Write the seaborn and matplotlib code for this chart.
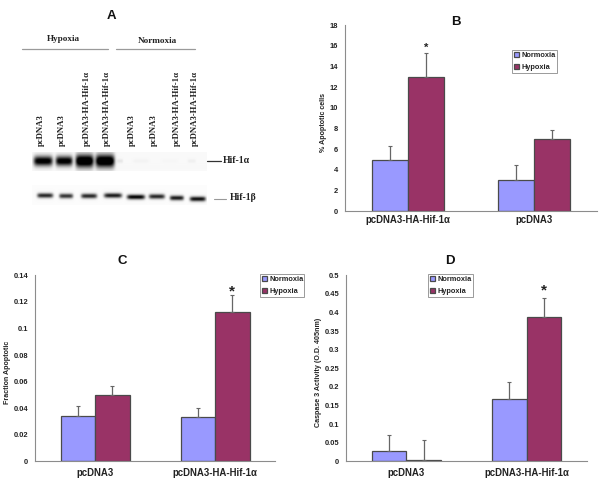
# Hif-1 panels: western blot (A) and three apoptosis bar charts (B, C, D)

import numpy as np
import pandas as pd
import matplotlib
matplotlib.use("Agg")
import matplotlib.pyplot as plt
import seaborn as sns

sns.set_style("white")
plt.rcParams["font.family"] = ["Liberation Sans", "DejaVu Sans"]

# Data

conditions = ["Normoxia", "Hypoxia"]
colors = ["#9999FF", "#993366"]

b_groups = ["pcDNA3-HA-Hif-1α", "pcDNA3"]
b_normoxia = [5, 3]
b_hypoxia = [13, 7]
b_normoxia_top = [6.3, 4.5]
b_hypoxia_top = [15.3, 7.9]
b_ticks = [0, 2, 4, 6, 8, 10, 12, 14, 16, 18]
b_ticklabels = ["0", "2", "4", "6", "8", "10", "12", "14", "16", "18"]

c_groups = ["pcDNA3", "pcDNA3-HA-Hif-1α"]
c_normoxia = [0.034, 0.033]
c_hypoxia = [0.050, 0.1125]
c_normoxia_top = [0.0415, 0.040]
c_hypoxia_top = [0.057, 0.1255]
c_ticks = [0, 0.02, 0.04, 0.06, 0.08, 0.1, 0.12, 0.14]
c_ticklabels = ["0", "0.02", "0.04", "0.06", "0.08", "0.1", "0.12", "0.14"]

d_groups = ["pcDNA3", "pcDNA3-HA-Hif-1α"]
d_normoxia = [0.027, 0.168]
d_hypoxia = [0.003, 0.388]
d_normoxia_top = [0.072, 0.214]
d_hypoxia_top = [0.056, 0.44]
d_ticks = [0, 0.05, 0.1, 0.15, 0.2, 0.25, 0.3, 0.35, 0.4, 0.45, 0.5]
d_ticklabels = ["0", "0.05", "0.1", "0.15", "0.2", "0.25", "0.3", "0.35", "0.4", "0.45", "0.5"]

lane_labels = ["pcDNA3", "pcDNA3", "pcDNA3-HA-Hif-1α", "pcDNA3-HA-Hif-1α",
               "pcDNA3", "pcDNA3", "pcDNA3-HA-Hif-1α", "pcDNA3-HA-Hif-1α"]
hif1a_strength = [0.85, 0.85, 1.0, 1.0, 0.06, 0.02, 0.01, 0.03]
hif1b_strength = [0.8, 0.75, 0.8, 0.85, 0.95, 0.8, 0.85, 0.9]

# Layout, in pixels of the 600x500 picture

W, H = 600, 500
label_x = [41, 62, 87, 107, 132, 154, 177, 195]
hif1a_x = [43, 64, 84.5, 105, 120, 141, 170, 192]
hif1b_x = [45, 66, 89, 113, 136, 157, 177, 198]
hif1b_y = [195.5, 196, 196, 195.5, 197, 196.5, 198, 199]
hif1b_w = [8, 7, 8, 9, 9, 8, 7, 8]

fig = plt.figure(figsize=(6, 5), dpi=100)


def make_axes(left, right, top, bottom):
    return fig.add_axes([left / W, 1 - bottom / H, (right - left) / W, (bottom - top) / H])


def bar_panel(box, groups, normoxia, hypoxia, normoxia_top, hypoxia_top, ticks, ticklabels,
              ylabel, ylabel_x, legend_box, star_size, star_shift, xpad, xsize):
    ax = make_axes(*box)
    df = pd.DataFrame({
        "group": groups * 2,
        "condition": [conditions[0]] * 2 + [conditions[1]] * 2,
        "value": list(normoxia) + list(hypoxia),
    })
    sns.barplot(data=df, x="group", y="value", hue="condition", order=groups,
                hue_order=conditions, palette=colors, width=0.57, gap=0,
                saturation=1, edgecolor="#4a4a4a", linewidth=0.9, errorbar=None, ax=ax)

    # upper error bars only, centred on the bars seaborn drew
    tops = list(normoxia_top) + list(hypoxia_top)
    bars = ax.patches[:4]
    for bar, top in zip(bars, tops):
        x = bar.get_x() + bar.get_width() / 2
        y = bar.get_height()
        ax.errorbar(x, y, yerr=[[0], [top - y]], color="#666666", lw=0.9,
                    capsize=1.6, capthick=0.8, fmt="none", zorder=5)

    # star above the hypoxia bar of the HA-Hif-1α group
    star = groups.index("pcDNA3-HA-Hif-1α")
    star_bar = bars[2 + star]
    ax.annotate("*", (star_bar.get_x() + star_bar.get_width() / 2, tops[2 + star]),
                xytext=(0, star_shift), textcoords="offset points", ha="center", va="bottom",
                fontsize=star_size, fontweight="bold", color="#222222")

    ax.set_xlim(-0.5, 1.5)
    ax.set_ylim(ticks[0], ticks[-1])
    ax.set_yticks(ticks)
    ax.set_yticklabels(ticklabels)
    ax.set_xlabel("")
    ax.set_ylabel(ylabel, fontsize=5.1, fontweight="bold", color="#222222")
    ax.yaxis.set_label_coords((ylabel_x - box[0]) / (box[1] - box[0]), 0.48)
    sns.despine(ax=ax)
    for side in ["left", "bottom"]:
        ax.spines[side].set_color("#8c8c8c")
        ax.spines[side].set_linewidth(0.8)
    ax.tick_params(axis="y", length=3, width=0.7, color="#8c8c8c", pad=2,
                   labelsize=5.4, labelcolor="#222222")
    ax.tick_params(axis="x", length=0, pad=xpad, labelsize=xsize, labelcolor="#222222")
    for lab in ax.get_yticklabels() + ax.get_xticklabels():
        lab.set_fontweight("bold")
    # x ticks sit on the category boundaries
    ax.set_xticks([-0.5, 0.5, 1.5], minor=True)
    ax.tick_params(axis="x", which="minor", length=2.5, width=0.7, color="#8c8c8c")

    handles, labels = ax.get_legend_handles_labels()
    left, right, top, bottom = legend_box
    leg = ax.legend(handles, labels, loc="lower left",
                    bbox_to_anchor=(left / W, 1 - bottom / H, (right - left) / W, (bottom - top) / H),
                    bbox_transform=fig.transFigure, mode="expand", borderaxespad=0,
                    frameon=True, fancybox=False, edgecolor="#9a9a9a",
                    framealpha=1, handlelength=0.7, handleheight=0.7, handletextpad=0.35,
                    borderpad=0.3, labelspacing=0.6, prop={"weight": "bold", "size": 5.3})
    leg.get_frame().set_linewidth(0.7)
    for text in leg.get_texts():
        text.set_color("#222222")
    return ax


# 1. Bar panels

bar_panel((345.3, 596.7, 25.3, 211.3), b_groups, b_normoxia, b_hypoxia, b_normoxia_top,
          b_hypoxia_top, b_ticks, b_ticklabels, "% Apoptotic cells", 327,
          (512, 556.7, 51, 73), 8, 0, 3, 6.9)
bar_panel((35.3, 275.3, 275.3, 461.3), c_groups, c_normoxia, c_hypoxia, c_normoxia_top,
          c_hypoxia_top, c_ticks, c_ticklabels, "Fraction Apoptotic", 11,
          (260, 304, 273, 297), 11, -2.5, 5, 6.9)
bar_panel((346.3, 586.7, 275.3, 461.3), d_groups, d_normoxia, d_hypoxia, d_normoxia_top,
          d_hypoxia_top, d_ticks, d_ticklabels, "Caspase 3 Activity (O.D. 405nm)", 322,
          (428, 473, 273, 297), 11, 0, 5, 6.9)

# 2. Overlay in pixel coordinates for the blot and the panel letters

over = fig.add_axes([0, 0, 1, 1], zorder=10)
over.set_xlim(0, W)
over.set_ylim(H, 0)
over.axis("off")
over.patch.set_alpha(0)


def blot_strip(x0, x1, y0, y1, xs, ys, half_w, half_h, strength, base, gain):
    gx, gy = np.meshgrid(np.linspace(x0, x1, 350), np.linspace(y0, y1, 80))
    dark = np.zeros_like(gx) + base
    for cx, cy, w, h, s in zip(xs, ys, half_w, half_h, strength):
        dark += gain * s * np.exp(-(np.abs((gx - cx) / w) ** 6 + np.abs((gy - cy) / h) ** 2))
    over.imshow(1 - np.clip(dark, 0, 1), extent=(x0, x1, y1, y0), cmap="gray",
                vmin=0, vmax=1, aspect="auto", interpolation="bilinear", zorder=1)


blot_strip(32, 207, 152, 171, hif1a_x, [161] * 8, [9.5, 8.5, 9, 9.5, 3, 8, 8, 4],
           [5, 5, 6.5, 6.5, 2, 2, 2, 2], hif1a_strength, 0.025, 1.25)
blot_strip(32, 207, 185, 205, hif1b_x, hif1b_y, hif1b_w, [2.4] * 8, hif1b_strength, 0.015, 1.05)
over.set_xlim(0, W)
over.set_ylim(H, 0)

serif = {"family": "Liberation Serif", "fontweight": "bold", "color": "#222222"}
over.plot([22, 108], [48.7, 48.7], color="#9a9a9a", lw=0.9)
over.plot([116, 195], [48.7, 48.7], color="#9a9a9a", lw=0.9)
over.text(63, 39, "Hypoxia", ha="center", va="center", fontsize=6.6, **serif)
over.text(157, 41, "Normoxia", ha="center", va="center", fontsize=6.6, **serif)
for x, lab in zip(label_x, lane_labels):
    over.text(x, 146, lab, rotation=90, ha="center", va="bottom", fontsize=6.3, **serif)

over.plot([207, 221], [160.7, 160.7], color="#333333", lw=0.9)
over.plot([214, 226], [199, 199], color="#999999", lw=0.8)
over.text(223, 160.7, "Hif-1α", ha="left", va="center", fontsize=7, **serif)
over.text(230, 198, "Hif-1β", ha="left", va="center", fontsize=7, **serif)

for x, y, letter in [(111, 16, "A"), (455.7, 22, "B"), (122, 261, "C"), (450, 261, "D")]:
    over.text(x, y, letter, ha="center", va="center", fontsize=9.5, fontweight="bold", color="#111111")

fig.savefig("out.png", dpi=100)
